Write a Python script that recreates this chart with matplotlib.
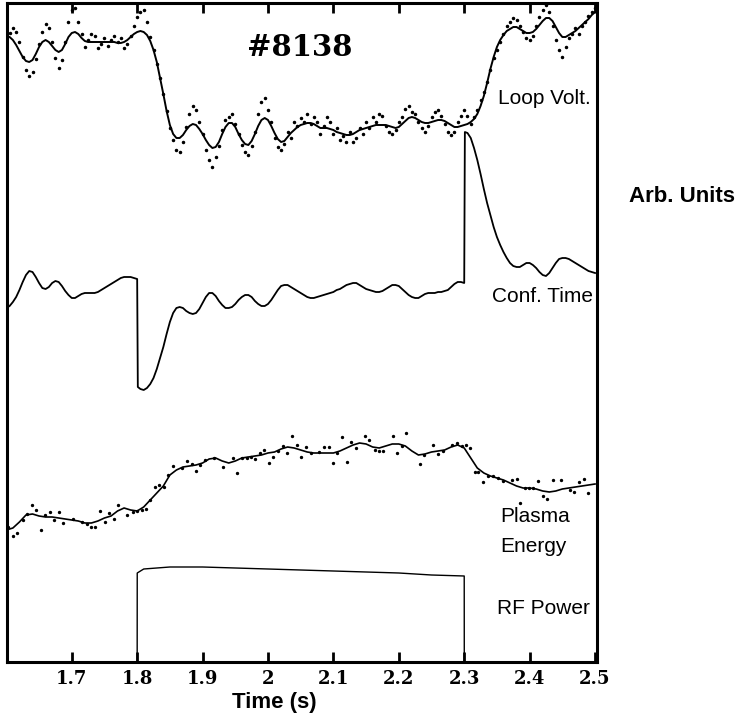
"""
Shot #8138 -- loop voltage, confinement time, plasma energy and RF power
vs time, all in arbitrary units stacked on one axis.
"""
import matplotlib
matplotlib.use("Agg")
import matplotlib.pyplot as plt

# sample grid (s), 5 ms step
t_fine = [1.600, 1.605, 1.610, 1.615, 1.620, 1.625, 1.630, 1.635, 1.640, 1.645,
          1.650, 1.655, 1.660, 1.665, 1.670, 1.675, 1.680, 1.685, 1.690, 1.695,
          1.700, 1.705, 1.710, 1.715, 1.720, 1.725, 1.730, 1.735, 1.740, 1.745,
          1.750, 1.755, 1.760, 1.765, 1.770, 1.775, 1.780, 1.785, 1.790, 1.795,
          1.800, 1.805, 1.810, 1.815, 1.820, 1.825, 1.830, 1.835, 1.840, 1.845,
          1.850, 1.855, 1.860, 1.865, 1.870, 1.875, 1.880, 1.885, 1.890, 1.895,
          1.900, 1.905, 1.910, 1.915, 1.920, 1.925, 1.930, 1.935, 1.940, 1.945,
          1.950, 1.955, 1.960, 1.965, 1.970, 1.975, 1.980, 1.985, 1.990, 1.995,
          2.000, 2.005, 2.010, 2.015, 2.020, 2.025, 2.030, 2.035, 2.040, 2.045,
          2.050, 2.055, 2.060, 2.065, 2.070, 2.075, 2.080, 2.085, 2.090, 2.095,
          2.100, 2.105, 2.110, 2.115, 2.120, 2.125, 2.130, 2.135, 2.140, 2.145,
          2.150, 2.155, 2.160, 2.165, 2.170, 2.175, 2.180, 2.185, 2.190, 2.195,
          2.200, 2.205, 2.210, 2.215, 2.220, 2.225, 2.230, 2.235, 2.240, 2.245,
          2.250, 2.255, 2.260, 2.265, 2.270, 2.275, 2.280, 2.285, 2.290, 2.295,
          2.300, 2.305, 2.310, 2.315, 2.320, 2.325, 2.330, 2.335, 2.340, 2.345,
          2.350, 2.355, 2.360, 2.365, 2.370, 2.375, 2.380, 2.385, 2.390, 2.395,
          2.400, 2.405, 2.410, 2.415, 2.420, 2.425, 2.430, 2.435, 2.440, 2.445,
          2.450, 2.455, 2.460, 2.465, 2.470, 2.475, 2.480, 2.485, 2.490, 2.495,
          2.500]

# loop voltage: smoothed trace
loop_fit = [626, 625, 622, 617, 611, 605, 601, 600, 602, 608,
            615, 620, 622, 620, 616, 612, 610, 612, 618, 625,
            629, 630, 628, 624, 621, 620, 620, 620, 620, 620,
            620, 620, 620, 620, 619, 619, 620, 622, 625, 628,
            630, 631, 630, 627, 621, 612, 600, 584, 568, 551,
            537, 528, 524, 524, 527, 532, 536, 538, 537, 533,
            528, 522, 517, 514, 515, 520, 528, 535, 539, 539,
            535, 528, 522, 518, 517, 521, 528, 536, 542, 544,
            542, 536, 529, 523, 520, 521, 525, 529, 532, 535,
            537, 538, 539, 539, 538, 536, 534, 534, 534, 533,
            532, 530, 529, 528, 527, 527, 528, 530, 532, 533,
            534, 535, 536, 537, 537, 537, 537, 536, 535, 534,
            535, 538, 541, 544, 545, 544, 542, 540, 539, 539,
            540, 541, 542, 542, 541, 539, 537, 535, 535, 536,
            537, 538, 540, 543, 548, 556, 566, 579, 593, 605,
            615, 622, 627, 631, 633, 635, 635, 633, 631, 629,
            629, 630, 633, 637, 641, 644, 644, 641, 635, 629,
            625, 625, 627, 629, 631, 634, 637, 640, 643, 647,
            650]

# loop voltage: raw samples
loop_raw = [630, 629, 634, 630, 620, 605, 592, 586, 590, 603,
            618, 630, 638, 634, 620, 604, 594, 602, 620, 640,
            652, 654, 640, 628, 615, 622, 628, 626, 614, 618,
            624, 616, 622, 626, 620, 624, 614, 618, 626, 636,
            645, 650, 652, 640, 625, 612, 598, 584, 568, 551,
            534, 522, 512, 510, 520, 535, 548, 556, 552, 540,
            528, 512, 502, 495, 505, 516, 532, 542, 545, 548,
            538, 528, 517, 510, 507, 516, 530, 548, 560, 564,
            552, 540, 524, 515, 512, 518, 530, 524, 540, 536,
            544, 540, 548, 538, 545, 540, 528, 536, 545, 540,
            528, 534, 522, 526, 520, 530, 520, 524, 534, 528,
            540, 534, 545, 540, 548, 546, 536, 530, 528, 532,
            540, 545, 553, 556, 550, 548, 540, 534, 530, 536,
            545, 550, 552, 546, 538, 530, 527, 530, 540, 546,
            552, 546, 538, 545, 552, 562, 570, 580, 592, 604,
            612, 620, 628, 636, 640, 644, 642, 636, 630, 624,
            622, 626, 636, 645, 652, 657, 650, 636, 622, 612,
            605, 615, 624, 628, 634, 628, 636, 640, 646, 650,
            654]

# confinement time (steps at RF on 1.80 s and RF off 2.30 s)
conf_t = t_fine[:41] + [1.801] + t_fine[41:141] + [2.301] + t_fine[141:]
conf = [354, 356, 360, 365, 372, 380, 387, 391, 390, 385,
        379, 374, 373, 375, 379, 381, 380, 376, 371, 367,
        364, 364, 366, 368, 369, 369, 369, 369, 370, 372,
        374, 376, 378, 380, 382, 384, 385, 385, 385, 384,
        383,
        275,
        273, 272, 274, 278, 284, 293, 304, 315, 328, 340,
        349, 354, 355, 354, 351, 349, 348, 349, 353, 359,
        365, 369, 369, 366, 361, 357, 354, 354, 355, 358,
        362, 365, 367, 367, 365, 361, 358, 356, 356, 358,
        362, 367, 372, 376, 377, 377, 375, 373, 371, 369,
        367, 365, 364, 364, 365, 366, 367, 368, 369, 370,
        372, 373, 375, 377, 378, 379, 379, 377, 375, 373,
        372, 371, 370, 370, 371, 373, 375, 377, 377, 376,
        373, 370, 367, 365, 364, 364, 366, 368, 369, 369,
        369, 370, 370, 371, 372, 375, 378, 380, 380, 379,
        530,
        529, 524, 514, 502, 488, 473, 459, 447, 435, 425,
        417, 410, 404, 399, 396, 395, 395, 397, 399, 399,
        397, 394, 390, 387, 386, 389, 394, 399, 403, 404,
        404, 403, 401, 399, 397, 395, 393, 391, 390, 389]

# plasma energy: smoothed trace (10 ms step)
energy_t = t_fine[::2]
energy_fit = [132, 134, 140, 147, 148, 146, 145, 145, 144, 143,
              142, 141, 139, 139, 141, 144, 146, 151, 154, 152,
              151, 155, 162, 169, 176, 187, 192, 195, 196, 197,
              199, 203, 204, 201, 199, 201, 204, 205, 206, 207,
              209, 210, 213, 215, 214, 212, 210, 209, 209, 209,
              209, 211, 214, 217, 219, 218, 215, 214, 216, 218,
              218, 216, 211, 207, 208, 210, 211, 212, 215, 217,
              214, 204, 194, 189, 186, 184, 182, 179, 176, 174,
              174, 173, 171, 170, 171, 173, 174, 175, 176, 177,
              178]

# plasma energy: raw samples
energy_raw_t = [1.603, 1.610, 1.617, 1.626, 1.632, 1.639, 1.646, 1.653, 1.659, 1.667,
                1.673, 1.681, 1.687, 1.702, 1.716, 1.724, 1.730, 1.736, 1.743, 1.751,
                1.757, 1.765, 1.771, 1.785, 1.794, 1.800, 1.808, 1.814, 1.820, 1.828,
                1.834, 1.841, 1.847, 1.855, 1.869, 1.876, 1.884, 1.890, 1.896, 1.904,
                1.918, 1.931, 1.947, 1.953, 1.961, 1.968, 1.974, 1.980, 1.988, 1.994,
                2.002, 2.008, 2.016, 2.023, 2.029, 2.037, 2.045, 2.051, 2.058, 2.066,
                2.078, 2.086, 2.094, 2.100, 2.106, 2.113, 2.121, 2.127, 2.135, 2.149,
                2.155, 2.164, 2.170, 2.176, 2.191, 2.198, 2.205, 2.211, 2.233, 2.239,
                2.253, 2.260, 2.268, 2.282, 2.289, 2.297, 2.303, 2.309, 2.317, 2.321,
                2.329, 2.337, 2.344, 2.352, 2.360, 2.373, 2.380, 2.386, 2.393, 2.399,
                2.405, 2.413, 2.420, 2.427, 2.436, 2.448, 2.461, 2.468, 2.476, 2.483,
                2.490]
energy_raw = [135, 126, 129, 142, 148, 157, 152, 132, 147, 150,
              142, 150, 139, 143, 140, 138, 135, 135, 151, 140,
              149, 143, 157, 147, 150, 151, 152, 153, 162, 175,
              177, 175, 187, 196, 194, 201, 198, 191, 197, 202,
              204, 195, 204, 189, 204, 204, 205, 203, 209, 212,
              199, 205, 211, 216, 209, 226, 217, 205, 215, 209,
              210, 215, 215, 199, 209, 225, 200, 220, 214, 226,
              222, 212, 211, 211, 226, 209, 216, 229, 198, 207,
              217, 208, 211, 217, 219, 216, 217, 214, 190, 190,
              180, 186, 186, 184, 181, 182, 183, 159, 174, 174,
              174, 181, 166, 163, 182, 182, 172, 170, 180, 183,
              169]

# RF power (on from 1.8 s to 2.3 s)
rf_t = [1.60, 1.80, 1.8001, 1.81, 1.85, 1.90, 2.00, 2.10, 2.20, 2.25, 2.30, 2.3001, 2.50]
rf = [0, 0, 89, 93, 95, 95, 93, 91, 89, 87, 86, 0, 0]

tick_pos = [1.7, 1.8, 1.9, 2.0, 2.1, 2.2, 2.3, 2.4, 2.5]
tick_lbl = ["1.7", "1.8", "1.9", "2", "2.1", "2.2", "2.3", "2.4", "2.5"]

fig = plt.figure(figsize=(7.37, 7.18), dpi=100)
ax = fig.add_axes([7 / 737, 56 / 718, 590 / 737, 659 / 718])

ax.plot(t_fine, loop_raw, ls="none", marker=".", ms=3, color="black")
ax.plot(t_fine, loop_fit, color="black", lw=1.4)
ax.plot(conf_t, conf, color="black", lw=1.3)
ax.plot(energy_raw_t, energy_raw, ls="none", marker=".", ms=2.8, color="black")
ax.plot(energy_t, energy_fit, color="black", lw=1.2)
ax.plot(rf_t, rf, color="black", lw=1.0)

ax.set_xlim(1.601, 2.503)
ax.set_ylim(0, 659)
ax.set_yticks([])
ax.set_xticks(tick_pos)
ax.set_xticklabels(tick_lbl, family="DejaVu Serif", fontweight="bold", fontsize=13)
ax.tick_params(axis="x", direction="in", length=7, width=2, top=True, pad=6)
for sp in ax.spines.values():
    sp.set_linewidth(2.2)

sans = "Liberation Sans"
ax.text(2.049, 614, "#8138", family="DejaVu Serif", fontweight="bold",
        fontsize=21, ha="center", va="center")
ax.text(2.352, 564, "Loop Volt.", family=sans, fontsize=15, va="center")
ax.text(2.343, 365, "Conf. Time", family=sans, fontsize=15, va="center")
ax.text(2.355, 145, "Plasma", family=sans, fontsize=15, va="center")
ax.text(2.355, 115, "Energy", family=sans, fontsize=15, va="center")
ax.text(2.350, 54, "RF Power", family=sans, fontsize=15, va="center")

fig.text(0.925, 0.726, "Arb. Units", family=sans, fontweight="bold",
         fontsize=16, ha="center", va="center")
fig.text(0.372, 0.021, "Time (s)", family=sans, fontweight="bold",
         fontsize=16, ha="center", va="center")

fig.savefig("out.png", dpi=100)
